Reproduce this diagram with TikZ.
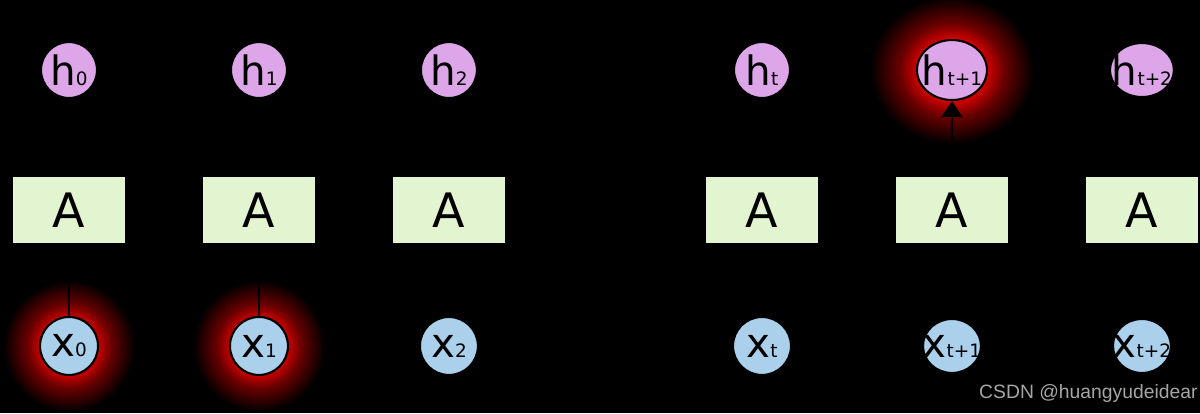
\documentclass[tikz,border=0pt]{standalone}
\usepackage{fontspec}
\setmainfont{DejaVu Sans}
\newfontfamily\markfont{Liberation Sans}
\usetikzlibrary{arrows.meta,shapes.geometric,backgrounds}

\definecolor{hpink}{RGB}{220,166,232}
\definecolor{xblue}{RGB}{170,208,236}
\definecolor{agreen}{RGB}{226,245,208}
\definecolor{glowred}{RGB}{210,0,0}
\pgfdeclareradialshading{redglow}{\pgfpoint{0bp}{0bp}}{color(0bp)=(glowred); color(10.5bp)=(glowred); color(16bp)=(glowred!50!black); color(25bp)=(black); color(50bp)=(black)}

\newcommand{\sym}[2]{\makebox[0pt]{{\fontsize{23}{23}\selectfont #1}{\fontsize{10.5}{10.5}\selectfont #2}}}

\begin{document}
\begin{tikzpicture}
    [x=0.02cm,y=0.02cm,node distance=3.8cm,
        >={Triangle[length=0.32cm,width=0.42cm]},
        hnode/.style={circle,draw=black,line width=1.2pt,fill=hpink,minimum size=1.12cm,inner sep=0pt},
        xnode/.style={circle,draw=black,line width=1.2pt,fill=xblue,minimum size=1.16cm,inner sep=0pt},
        abox/.style={rectangle,draw=black,line width=1pt,fill=agreen,minimum width=2.28cm,minimum height=1.36cm,font=\fontsize{27}{27}\selectfont},
        above/.style={above of=#1,node distance=2.8cm},
        below/.style={below of=#1,node distance=2.72cm}]
    \useasboundingbox (0,0) rectangle (1200,413);

    % cells
    \node[abox] (A0) at (69,203) {A};
    \node[abox, right of = A0] (A1) {A};
    \node[abox, right of = A1] (A2) {A};
    \node[abox] (At) at (762,203) {A};
    \node[abox, right of = At] (At1) {A};
    \node[abox, right of = At1] (At2) {A};

    % outputs
    \node[hnode, above = A0] (h0) {\sym{h}{0}};
    \node[hnode, above = A1] (h1) {\sym{h}{1}};
    \node[hnode, above = A2] (h2) {\sym{h}{2}};
    \node[hnode, above = At] (ht) {\sym{h}{t}};
    \node[hnode, ellipse, above = At1, minimum width=1.4cm, minimum height=1.2cm] (ht1) {\sym{h}{t+1}};
    \node[hnode, ellipse, above = At2, minimum width=1.28cm, minimum height=1.08cm] (ht2) {\sym{h}{t+2}};

    % inputs
    \node[xnode, below = A0] (x0) {\sym{x}{0}};
    \node[xnode, below = A1] (x1) {\sym{x}{1}};
    \node[xnode, below = A2] (x2) {\sym{x}{2}};
    \node[xnode, below = At] (xt) {\sym{x}{t}};
    \node[xnode, ellipse, below = At1, minimum width=1.16cm, minimum height=1.08cm] (xt1) {\sym{x}{t+1}};
    \node[xnode, ellipse, below = At2, minimum width=1.16cm, minimum height=1.08cm] (xt2) {\sym{x}{t+2}};

    \path[->,draw=black,line width=1.2pt]
    (x0) edge (A0)
    (x1) edge (A1)
    (x2) edge (A2)
    (xt) edge (At)
    (xt1) edge (At1)
    (xt2) edge (At2)
    (A0) edge (h0)
         edge (A1)
    (A1) edge (h1)
         edge (A2)
    (A2) edge (h2)
    (At) edge (ht)
         edge (At1)
    (At1) edge (ht1)
         edge (At2)
    (At2) edge (ht2)
    ;

    \node[anchor=base west, text=black!35!white, font=\markfont\fontsize{11}{11}\selectfont] (mark) at (973,15) {CSDN @huangyudeidear};

    \begin{scope}[on background layer]
        \fill[black] (0,0) rectangle (1200,413);
        \shade[shading=redglow] (x0) circle (66);
        \shade[shading=redglow] (x1) circle (66);
        \shade[shading=redglow] (ht1) ellipse (82 and 74);
    \end{scope}
\end{tikzpicture}
\end{document}
